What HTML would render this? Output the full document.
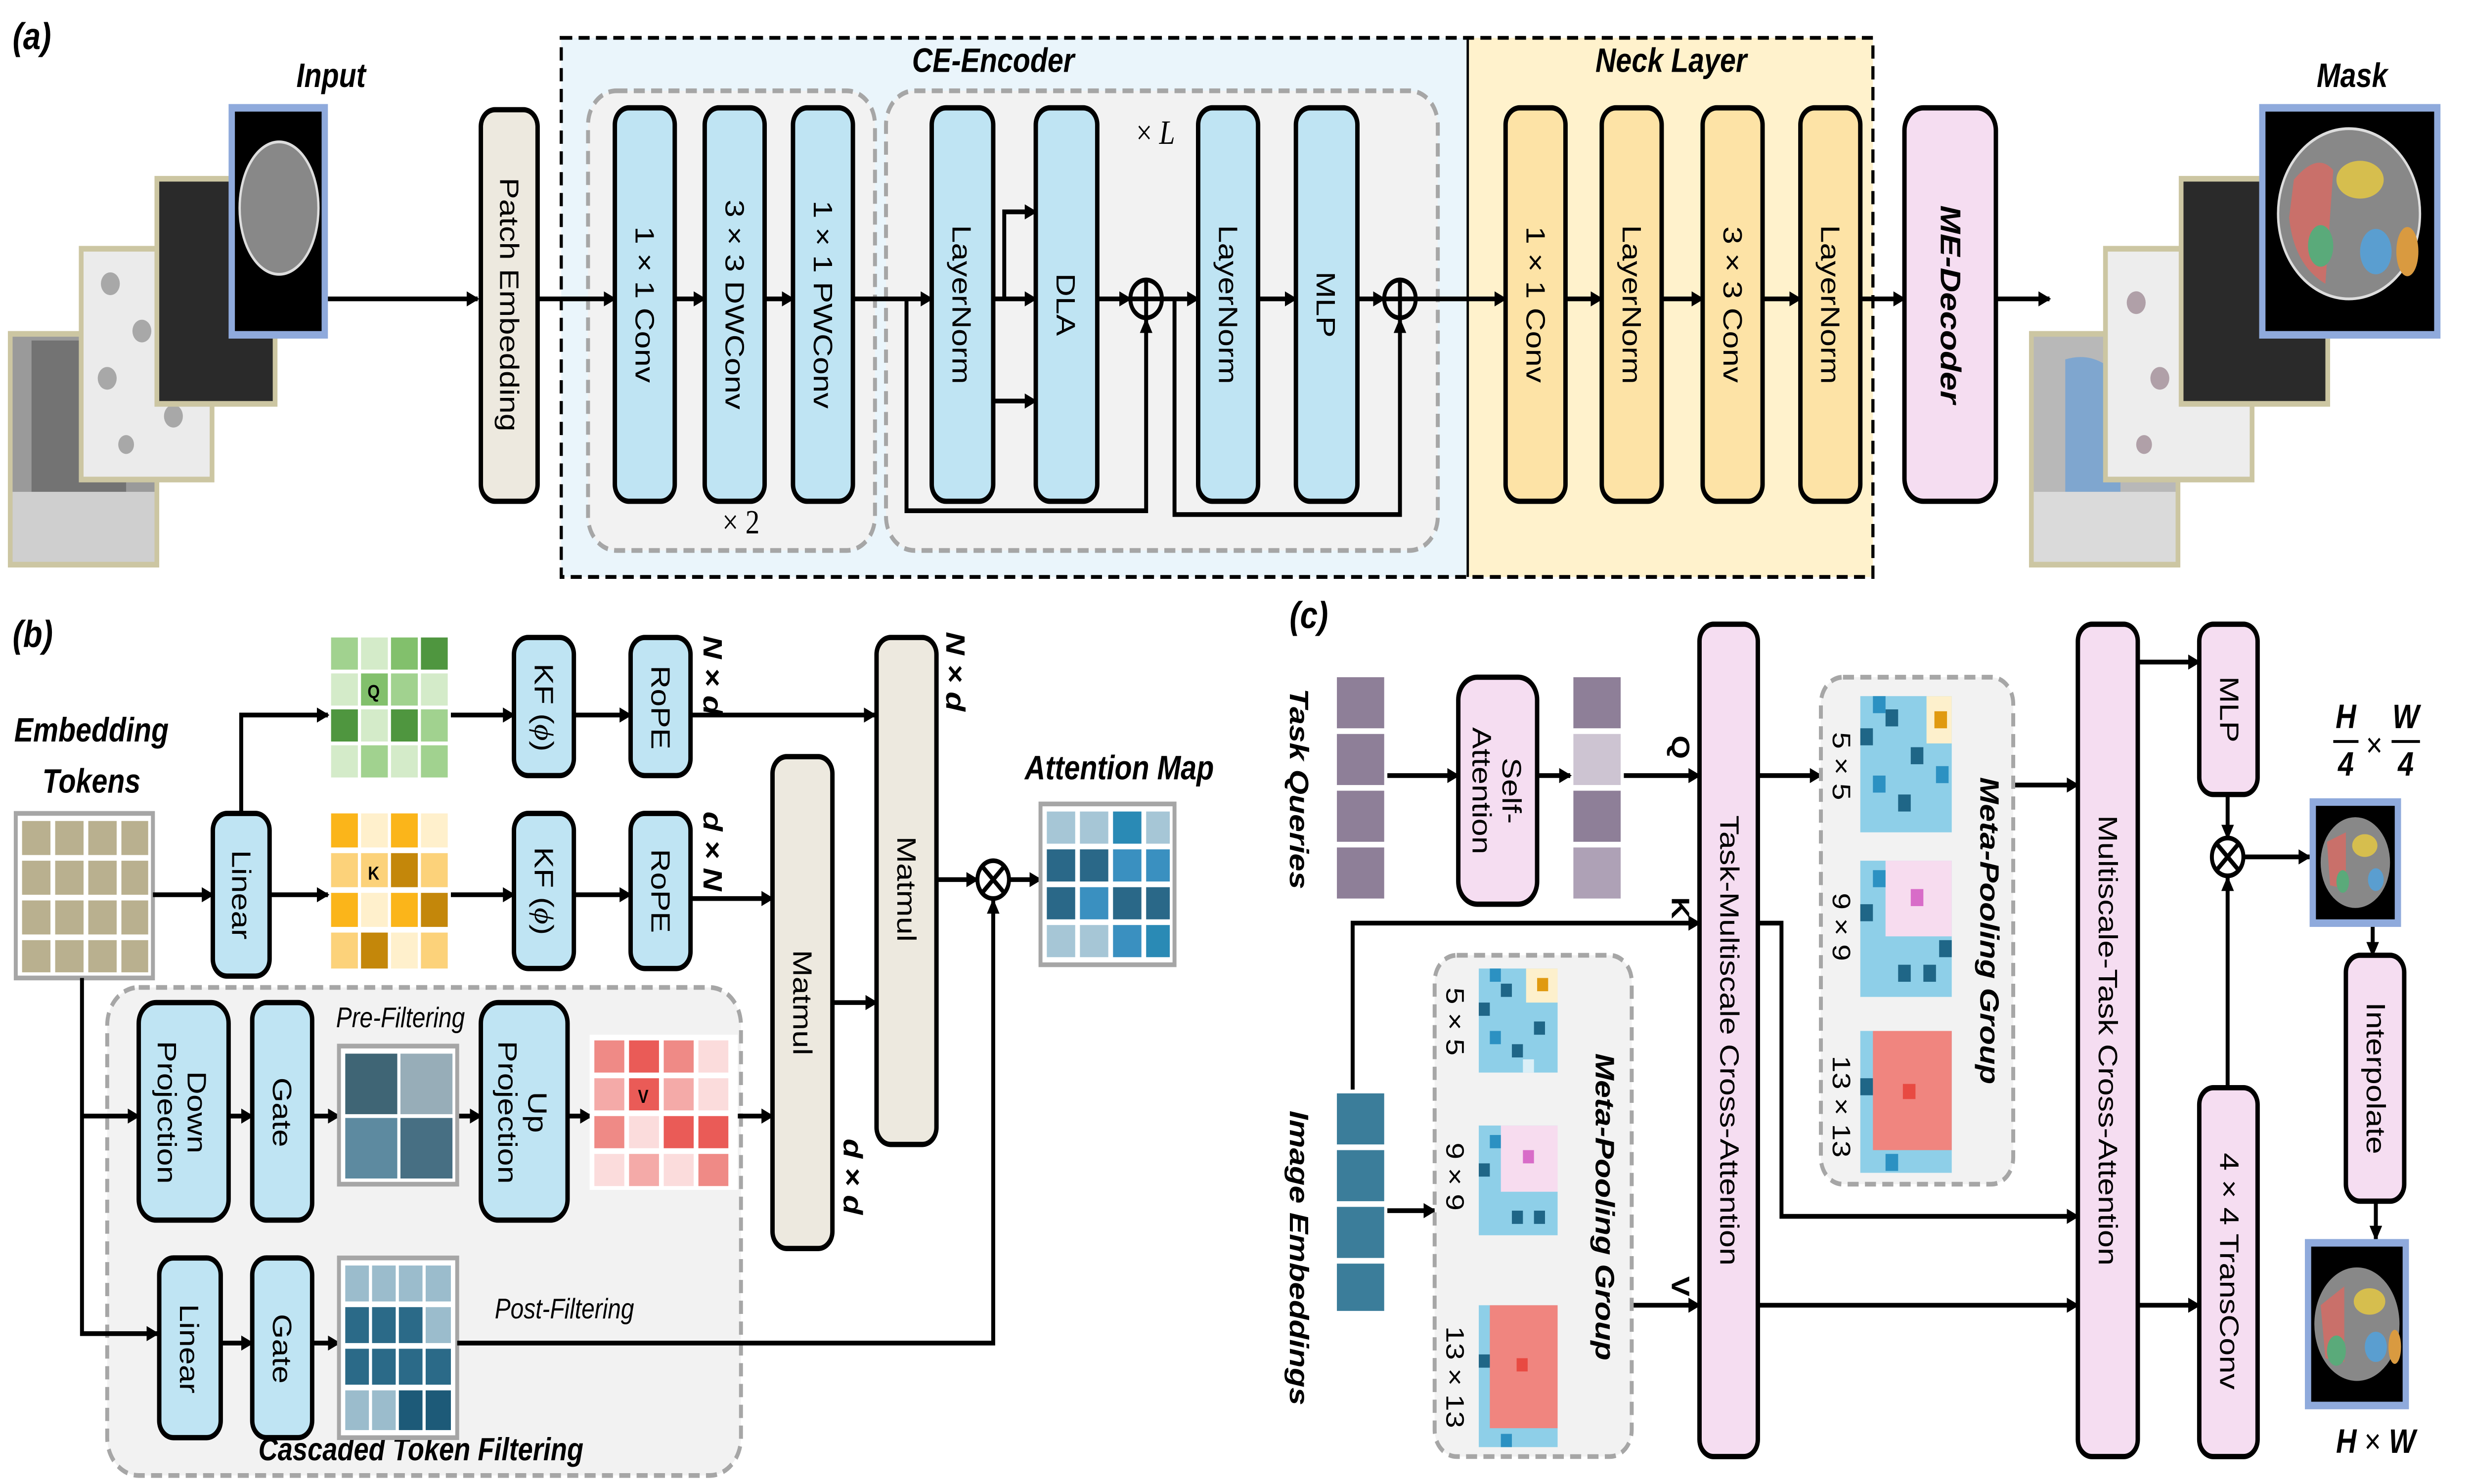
<!DOCTYPE html>
<html><head><meta charset="utf-8"><style>
html,body{margin:0;padding:0;background:#fff;overflow:hidden;width:100%;height:100%}
svg{display:block;width:100vw;height:100vh}
text{font-family:"Liberation Sans",sans-serif}
.lb{font-size:17px;text-anchor:middle;dominant-baseline:central}
.it{font-family:"Liberation Sans",sans-serif;font-style:italic;font-weight:bold;font-size:18px;text-anchor:middle}
.ln{stroke:#000;stroke-width:2.5;fill:none}
.bx{stroke:#000;stroke-width:2.8}
</style></head><body>
<svg viewBox="0 0 1568 784.5" preserveAspectRatio="none" xmlns="http://www.w3.org/2000/svg">
<defs>
<marker id="a" markerWidth="8" markerHeight="8" refX="7" refY="4" orient="auto" markerUnits="userSpaceOnUse"><path d="M0,0 L8,4 L0,8 z" fill="#000"/></marker>
</defs>

<!-- ===== (a) ===== -->
<text x="8" y="26" class="it" style="text-anchor:start;font-size:20px">(a)</text>
<text x="210" y="46" class="it">Input</text>
<rect x="5" y="175" width="96" height="125" fill="#ccc6a2"/><rect x="8" y="178" width="90" height="119" fill="#9a9a9a"/><rect x="20" y="180" width="60" height="80" fill="#5a5a5a" opacity=".6"/><rect x="8" y="260" width="90" height="37" fill="#cfcfcf"/>
<rect x="50" y="130" width="86" height="125" fill="#ccc6a2"/><rect x="53" y="133" width="80" height="119" fill="#ebebeb"/>
<circle cx="70" cy="150" r="6" fill="#a8a8a8"/><circle cx="90" cy="175" r="6" fill="#a8a8a8"/><circle cx="68" cy="200" r="6" fill="#a8a8a8"/><circle cx="110" cy="220" r="6" fill="#a8a8a8"/><circle cx="80" cy="235" r="5" fill="#a8a8a8"/>
<rect x="98" y="93" width="78" height="122" fill="#ccc6a2"/><rect x="101" y="96" width="72" height="116" fill="#2a2a2a"/>
<rect x="145" y="55" width="63" height="124" fill="#8faadc"/><rect x="149" y="59" width="55" height="116" fill="#000"/>
<ellipse cx="177" cy="110" rx="25" ry="35" fill="#888" stroke="#ddd" stroke-width="1.5"/>
<line class="ln" x1="208" y1="158" x2="303" y2="158" marker-end="url(#a)"/>
<rect x="305" y="58" width="36" height="207" rx="9" fill="#ede9df" class="bx"/>
<text class="lb" transform="translate(323,161) rotate(90)">Patch Embedding</text>

<rect x="356" y="20" width="575" height="285" fill="#eaf5fb"/>
<rect x="931" y="20" width="257" height="285" fill="#fff2cc"/>
<rect x="356" y="20" width="832" height="285" fill="none" stroke="#000" stroke-width="2" stroke-dasharray="7,4"/>
<line x1="931" y1="20" x2="931" y2="305" stroke="#000" stroke-width="1.5"/>
<text x="630" y="38" class="it">CE-Encoder</text>
<text x="1060" y="38" class="it">Neck Layer</text>
<rect x="373" y="48" width="182" height="243" rx="18" fill="#f2f2f2" stroke="#a6a6a6" stroke-width="2.5" stroke-dasharray="7,4"/>
<rect x="562" y="48" width="350" height="243" rx="18" fill="#f2f2f2" stroke="#a6a6a6" stroke-width="2.5" stroke-dasharray="7,4"/>
<text x="470" y="282" style="font-size:18px;text-anchor:middle;font-family:'Liberation Serif',serif">× 2</text>
<text x="733" y="76" style="font-size:18px;text-anchor:middle;font-family:'Liberation Serif',serif">× <tspan font-style="italic">L</tspan></text>
<line class="ln" x1="341" y1="158" x2="390" y2="158" marker-end="url(#a)"/>
<g fill="#bfe4f3">
<rect x="390" y="57" width="38" height="208" rx="9" class="bx"/>
<rect x="447" y="57" width="38" height="208" rx="9" class="bx"/>
<rect x="503" y="57" width="38" height="208" rx="9" class="bx"/>
<rect x="591" y="57" width="39" height="208" rx="9" class="bx"/>
<rect x="657" y="57" width="39" height="208" rx="9" class="bx"/>
<rect x="760" y="57" width="38" height="208" rx="9" class="bx"/>
<rect x="822" y="57" width="39" height="208" rx="9" class="bx"/>
</g>
<text class="lb" transform="translate(409,161) rotate(90)">1 × 1 Conv</text>
<text class="lb" transform="translate(466,161) rotate(90)">3 × 3 DWConv</text>
<text class="lb" transform="translate(522,161) rotate(90)">1 × 1 PWConv</text>
<text class="lb" transform="translate(610,161) rotate(90)">LayerNorm</text>
<text class="lb" transform="translate(676,161) rotate(90)">DLA</text>
<text class="lb" transform="translate(779,161) rotate(90)">LayerNorm</text>
<text class="lb" transform="translate(841,161) rotate(90)">MLP</text>
<line class="ln" x1="428" y1="158" x2="447" y2="158" marker-end="url(#a)"/>
<line class="ln" x1="485" y1="158" x2="503" y2="158" marker-end="url(#a)"/>
<line class="ln" x1="541" y1="158" x2="591" y2="158" marker-end="url(#a)"/>
<line class="ln" x1="630" y1="158" x2="657" y2="158" marker-end="url(#a)"/>
<polyline class="ln" points="637,158 637,112 657,112" marker-end="url(#a)"/>
<line class="ln" x1="630" y1="212" x2="657" y2="212" marker-end="url(#a)"/>
<line class="ln" x1="696" y1="158" x2="717" y2="158" marker-end="url(#a)"/>
<circle cx="727" cy="158" r="10" fill="none" stroke="#000" stroke-width="2.5"/><line class="ln" x1="717" y1="158" x2="737" y2="158"/><line class="ln" x1="727" y1="148" x2="727" y2="168"/>
<polyline class="ln" points="575,158 575,270 727,270 727,169" marker-end="url(#a)"/>
<line class="ln" x1="737" y1="158" x2="760" y2="158" marker-end="url(#a)"/>
<line class="ln" x1="798" y1="158" x2="822" y2="158" marker-end="url(#a)"/>
<line class="ln" x1="861" y1="158" x2="878" y2="158" marker-end="url(#a)"/>
<circle cx="888" cy="158" r="10" fill="none" stroke="#000" stroke-width="2.5"/><line class="ln" x1="878" y1="158" x2="898" y2="158"/><line class="ln" x1="888" y1="148" x2="888" y2="168"/>
<polyline class="ln" points="745,158 745,272 888,272 888,169" marker-end="url(#a)"/>
<line class="ln" x1="898" y1="158" x2="955" y2="158" marker-end="url(#a)"/>
<g fill="#fde3a6">
<rect x="955" y="57" width="38" height="208" rx="9" class="bx"/>
<rect x="1016" y="57" width="38" height="208" rx="9" class="bx"/>
<rect x="1080" y="57" width="38" height="208" rx="9" class="bx"/>
<rect x="1142" y="57" width="38" height="208" rx="9" class="bx"/>
</g>
<text class="lb" transform="translate(974,161) rotate(90)">1 × 1 Conv</text>
<text class="lb" transform="translate(1035,161) rotate(90)">LayerNorm</text>
<text class="lb" transform="translate(1099,161) rotate(90)">3 × 3 Conv</text>
<text class="lb" transform="translate(1161,161) rotate(90)">LayerNorm</text>
<line class="ln" x1="993" y1="158" x2="1016" y2="158" marker-end="url(#a)"/>
<line class="ln" x1="1054" y1="158" x2="1080" y2="158" marker-end="url(#a)"/>
<line class="ln" x1="1118" y1="158" x2="1142" y2="158" marker-end="url(#a)"/>
<line class="ln" x1="1180" y1="158" x2="1208" y2="158" marker-end="url(#a)"/>
<rect x="1208" y="57" width="58" height="208" rx="12" fill="#f5ddf1" class="bx"/>
<text class="lb" transform="translate(1237,161) rotate(90)" style="font-weight:bold;font-style:italic;font-size:18px">ME-Decoder</text>
<line class="ln" x1="1266" y1="158" x2="1300" y2="158" marker-end="url(#a)"/>
<text x="1492" y="46" class="it">Mask</text>
<rect x="1287" y="175" width="96" height="125" fill="#ccc6a2"/><rect x="1290" y="178" width="90" height="119" fill="#b8b8b8"/><path d="M1310,190 Q1330,185 1345,200 L1345,260 L1310,260 z" fill="#7fa6cf"/><rect x="1290" y="260" width="90" height="37" fill="#dadada"/>
<rect x="1334" y="130" width="96" height="125" fill="#ccc6a2"/><rect x="1337" y="133" width="90" height="119" fill="#ededed"/>
<circle cx="1355" cy="160" r="6" fill="#b0a0a8"/><circle cx="1370" cy="200" r="6" fill="#b0a0a8"/><circle cx="1360" cy="235" r="5" fill="#b0a0a8"/>
<rect x="1382" y="93" width="96" height="122" fill="#ccc6a2"/><rect x="1385" y="96" width="90" height="116" fill="#2a2a2a"/>
<rect x="1433" y="55" width="115" height="124" fill="#8faadc"/><rect x="1437" y="59" width="107" height="116" fill="#000"/>
<ellipse cx="1490" cy="113" rx="45" ry="45" fill="#888" stroke="#ddd" stroke-width="1.5"/>
<path d="M1455,95 Q1470,80 1480,90 L1475,150 Q1455,140 1452,115z" fill="#c9706a"/>
<ellipse cx="1497" cy="95" rx="15" ry="10" fill="#d6be4e"/><ellipse cx="1472" cy="130" rx="8" ry="11" fill="#5aaa7a"/><ellipse cx="1507" cy="133" rx="10" ry="12" fill="#5a9ed0"/><ellipse cx="1527" cy="133" rx="7" ry="13" fill="#d99a40"/>

<!-- ===== (b) ===== -->
<text x="8" y="342" class="it" style="text-anchor:start;font-size:20px">(b)</text>
<text x="58" y="392" class="it">Embedding</text>
<text x="58" y="419" class="it">Tokens</text>
<rect x="10" y="430" width="87" height="87" fill="#fff" stroke="#a6a6a6" stroke-width="2.5"/>
<g fill="#b9b08f">
<rect x="14" y="434" width="18" height="18"/><rect x="35" y="434" width="18" height="18"/><rect x="56" y="434" width="18" height="18"/><rect x="77" y="434" width="17" height="18"/>
<rect x="14" y="455" width="18" height="18"/><rect x="35" y="455" width="18" height="18"/><rect x="56" y="455" width="18" height="18"/><rect x="77" y="455" width="17" height="18"/>
<rect x="14" y="476" width="18" height="18"/><rect x="35" y="476" width="18" height="18"/><rect x="56" y="476" width="18" height="18"/><rect x="77" y="476" width="17" height="18"/>
<rect x="14" y="497" width="18" height="17"/><rect x="35" y="497" width="18" height="17"/><rect x="56" y="497" width="18" height="17"/><rect x="77" y="497" width="17" height="17"/>
</g>
<rect x="68" y="522" width="402" height="258" rx="20" fill="#f2f2f2" stroke="#a6a6a6" stroke-width="2.5" stroke-dasharray="7,4"/>
<line class="ln" x1="97" y1="473" x2="135" y2="473" marker-end="url(#a)"/>
<polyline class="ln" points="52,517 52,705 100,705" marker-end="url(#a)"/>
<line class="ln" x1="52" y1="590" x2="88" y2="590" marker-end="url(#a)"/>
<rect x="135" y="430" width="36" height="86" rx="9" fill="#bfe4f3" class="bx"/>
<text class="lb" transform="translate(153,473) rotate(90)">Linear</text>
<polyline class="ln" points="153,430 153,378 208,378" marker-end="url(#a)"/>
<line class="ln" x1="171" y1="473" x2="208" y2="473" marker-end="url(#a)"/>
<g>
<rect x="210" y="337" width="17" height="17" fill="#a1d28f"/><rect x="229" y="337" width="17" height="17" fill="#d4ebc9"/><rect x="248" y="337" width="17" height="17" fill="#82c06c"/><rect x="267" y="337" width="17" height="17" fill="#4f963f"/>
<rect x="210" y="356" width="17" height="17" fill="#d4ebc9"/><rect x="229" y="356" width="17" height="17" fill="#82c06c"/><rect x="248" y="356" width="17" height="17" fill="#a1d28f"/><rect x="267" y="356" width="17" height="17" fill="#d4ebc9"/>
<rect x="210" y="375" width="17" height="17" fill="#4f963f"/><rect x="229" y="375" width="17" height="17" fill="#d4ebc9"/><rect x="248" y="375" width="17" height="17" fill="#4f963f"/><rect x="267" y="375" width="17" height="17" fill="#a1d28f"/>
<rect x="210" y="394" width="17" height="17" fill="#d4ebc9"/><rect x="229" y="394" width="17" height="17" fill="#a1d28f"/><rect x="248" y="394" width="17" height="17" fill="#d4ebc9"/><rect x="267" y="394" width="17" height="17" fill="#a1d28f"/>
<text x="237" y="369" style="font-size:10px;font-weight:bold;text-anchor:middle">Q</text>
</g>
<g>
<rect x="210" y="430" width="17" height="18" fill="#fbb51a"/><rect x="229" y="430" width="17" height="18" fill="#fff0cc"/><rect x="248" y="430" width="17" height="18" fill="#fbb51a"/><rect x="267" y="430" width="17" height="18" fill="#fff0cc"/>
<rect x="210" y="451" width="17" height="18" fill="#fcd27a"/><rect x="229" y="451" width="17" height="18" fill="#fcd27a"/><rect x="248" y="451" width="17" height="18" fill="#c4870a"/><rect x="267" y="451" width="17" height="18" fill="#fcd27a"/>
<rect x="210" y="472" width="17" height="18" fill="#fbb51a"/><rect x="229" y="472" width="17" height="18" fill="#fff0cc"/><rect x="248" y="472" width="17" height="18" fill="#fbb51a"/><rect x="267" y="472" width="17" height="18" fill="#c4870a"/>
<rect x="210" y="493" width="17" height="19" fill="#fcd27a"/><rect x="229" y="493" width="17" height="19" fill="#c4870a"/><rect x="248" y="493" width="17" height="19" fill="#fff0cc"/><rect x="267" y="493" width="17" height="19" fill="#fcd27a"/>
<text x="237" y="465" style="font-size:10px;font-weight:bold;text-anchor:middle">K</text>
</g>
<line class="ln" x1="286" y1="378" x2="326" y2="378" marker-end="url(#a)"/>
<line class="ln" x1="286" y1="473" x2="326" y2="473" marker-end="url(#a)"/>
<g fill="#bfe4f3">
<rect x="326" y="337" width="38" height="73" rx="9" class="bx"/>
<rect x="326" y="430" width="38" height="82" rx="9" class="bx"/>
<rect x="400" y="337" width="38" height="73" rx="9" class="bx"/>
<rect x="400" y="430" width="38" height="82" rx="9" class="bx"/>
</g>
<text class="lb" transform="translate(345,374) rotate(90)">KF (<tspan font-style="italic" font-family="Liberation Serif">ϕ</tspan>)</text>
<text class="lb" transform="translate(345,471) rotate(90)">KF (<tspan font-style="italic" font-family="Liberation Serif">ϕ</tspan>)</text>
<text class="lb" transform="translate(419,374) rotate(90)">RoPE</text>
<text class="lb" transform="translate(419,471) rotate(90)">RoPE</text>
<line class="ln" x1="364" y1="378" x2="400" y2="378" marker-end="url(#a)"/>
<line class="ln" x1="364" y1="473" x2="400" y2="473" marker-end="url(#a)"/>
<line class="ln" x1="438" y1="378" x2="555" y2="378" marker-end="url(#a)"/>
<line class="ln" x1="438" y1="475" x2="490" y2="475" marker-end="url(#a)"/>
<g style="font-family:'Liberation Serif',serif;font-style:italic;font-weight:bold;font-size:17px" text-anchor="middle">
<text transform="translate(452,357) rotate(90)" dominant-baseline="central">N × d</text>
<text transform="translate(452,450) rotate(90)" dominant-baseline="central">d × N</text>
<text transform="translate(606,355) rotate(90)" dominant-baseline="central">N × d</text>
<text transform="translate(541,622) rotate(90)" dominant-baseline="central">d × d</text>
</g>
<g fill="#ede9df">
<rect x="490" y="400" width="38" height="260" rx="9" class="bx"/>
<rect x="556" y="337" width="38" height="268" rx="9" class="bx"/>
</g>
<text class="lb" transform="translate(509,530) rotate(90)">Matmul</text>
<text class="lb" transform="translate(575,470) rotate(90)">Matmul</text>
<line class="ln" x1="528" y1="530" x2="556" y2="530" marker-end="url(#a)"/>
<line class="ln" x1="594" y1="465" x2="620" y2="465" marker-end="url(#a)"/>
<circle cx="630" cy="465" r="10" fill="#fff" stroke="#000" stroke-width="2.5"/><path class="ln" d="M623,458 L637,472 M637,458 L623,472"/>
<line class="ln" x1="640" y1="465" x2="660" y2="465" marker-end="url(#a)"/>
<text x="710" y="412" class="it">Attention Map</text>
<rect x="660" y="425" width="85" height="85" fill="#fff" stroke="#a6a6a6" stroke-width="2.5"/>
<g>
<rect x="664" y="429" width="18" height="17" fill="#a6c6d6"/><rect x="685" y="429" width="18" height="17" fill="#a6c6d6"/><rect x="706" y="429" width="18" height="17" fill="#2a8ab5"/><rect x="727" y="429" width="15" height="17" fill="#a6c6d6"/>
<rect x="664" y="449" width="18" height="17" fill="#2a6888"/><rect x="685" y="449" width="18" height="17" fill="#2a6888"/><rect x="706" y="449" width="18" height="17" fill="#3a90c0"/><rect x="727" y="449" width="15" height="17" fill="#3a90c0"/>
<rect x="664" y="469" width="18" height="17" fill="#2a6888"/><rect x="685" y="469" width="18" height="17" fill="#3a90c0"/><rect x="706" y="469" width="18" height="17" fill="#2a6888"/><rect x="727" y="469" width="15" height="17" fill="#2a6888"/>
<rect x="664" y="489" width="18" height="17" fill="#a6c6d6"/><rect x="685" y="489" width="18" height="17" fill="#a6c6d6"/><rect x="706" y="489" width="18" height="17" fill="#3a90c0"/><rect x="727" y="489" width="15" height="17" fill="#2a8ab5"/>
</g>
<g fill="#bfe4f3">
<rect x="88" y="530" width="57" height="115" rx="11" class="bx"/>
<rect x="160" y="530" width="38" height="115" rx="9" class="bx"/>
<rect x="305" y="530" width="55" height="115" rx="11" class="bx"/>
<rect x="101" y="665" width="39" height="95" rx="9" class="bx"/>
<rect x="160" y="665" width="38" height="95" rx="9" class="bx"/>
</g>
<text class="lb" transform="translate(116,588) rotate(90)"><tspan x="0" dy="-9">Down</tspan><tspan x="0" dy="19">Projection</tspan></text>
<text class="lb" transform="translate(179,588) rotate(90)">Gate</text>
<text class="lb" transform="translate(332,588) rotate(90)"><tspan x="0" dy="-9">Up</tspan><tspan x="0" dy="19">Projection</tspan></text>
<text class="lb" transform="translate(120,713) rotate(90)">Linear</text>
<text class="lb" transform="translate(179,713) rotate(90)">Gate</text>
<text x="254" y="543" style="font-style:italic;font-size:15px;text-anchor:middle">Pre-Filtering</text>
<text x="358" y="697" style="font-style:italic;font-size:15px;text-anchor:middle">Post-Filtering</text>
<text x="267" y="772" class="it" style="font-size:17px">Cascaded Token Filtering</text>
<line class="ln" x1="145" y1="590" x2="160" y2="590" marker-end="url(#a)"/>
<line class="ln" x1="198" y1="590" x2="215" y2="590" marker-end="url(#a)"/>
<line class="ln" x1="290" y1="590" x2="305" y2="590" marker-end="url(#a)"/>
<line class="ln" x1="360" y1="590" x2="375" y2="590" marker-end="url(#a)"/>
<line class="ln" x1="140" y1="710" x2="160" y2="710" marker-end="url(#a)"/>
<line class="ln" x1="198" y1="710" x2="215" y2="710" marker-end="url(#a)"/>
<rect x="215" y="553" width="75" height="73" fill="#fff" stroke="#a6a6a6" stroke-width="2.5"/>
<rect x="219" y="557" width="33" height="32" fill="#3f6575"/><rect x="254" y="557" width="33" height="32" fill="#97adb8"/><rect x="219" y="591" width="33" height="32" fill="#5d8aa0"/><rect x="254" y="591" width="33" height="32" fill="#476f83"/>
<rect x="374" y="547" width="94" height="82" fill="#fff"/>
<g>
<rect x="377" y="550" width="19" height="17" fill="#ef8a86"/><rect x="399" y="550" width="19" height="17" fill="#ea5b57"/><rect x="421" y="550" width="19" height="17" fill="#ef8a86"/><rect x="443" y="550" width="19" height="17" fill="#fbdcdc"/>
<rect x="377" y="570" width="19" height="17" fill="#f4aaa8"/><rect x="399" y="570" width="19" height="17" fill="#ea5b57"/><rect x="421" y="570" width="19" height="17" fill="#f4aaa8"/><rect x="443" y="570" width="19" height="17" fill="#fbdcdc"/>
<rect x="377" y="590" width="19" height="17" fill="#ef8a86"/><rect x="399" y="590" width="19" height="17" fill="#fbdcdc"/><rect x="421" y="590" width="19" height="17" fill="#ea5b57"/><rect x="443" y="590" width="19" height="17" fill="#ea5b57"/>
<rect x="377" y="610" width="19" height="17" fill="#fbdcdc"/><rect x="399" y="610" width="19" height="17" fill="#f4aaa8"/><rect x="421" y="610" width="19" height="17" fill="#fbdcdc"/><rect x="443" y="610" width="19" height="17" fill="#ef8a86"/>
<text x="408" y="583" style="font-size:10px;font-weight:bold;text-anchor:middle">V</text>
</g>
<line class="ln" x1="468" y1="590" x2="490" y2="590" marker-end="url(#a)"/>
<rect x="215" y="665" width="75" height="95" fill="#fff" stroke="#a6a6a6" stroke-width="2.5"/>
<g>
<rect x="219" y="669" width="15" height="19" fill="#9bbccc"/><rect x="236" y="669" width="15" height="19" fill="#9bbccc"/><rect x="253" y="669" width="15" height="19" fill="#9bbccc"/><rect x="270" y="669" width="16" height="19" fill="#9bbccc"/>
<rect x="219" y="691" width="15" height="19" fill="#2b6a88"/><rect x="236" y="691" width="15" height="19" fill="#2b6a88"/><rect x="253" y="691" width="15" height="19" fill="#2b6a88"/><rect x="270" y="691" width="16" height="19" fill="#9bbccc"/>
<rect x="219" y="713" width="15" height="19" fill="#2b6a88"/><rect x="236" y="713" width="15" height="19" fill="#2b6a88"/><rect x="253" y="713" width="15" height="19" fill="#2b6a88"/><rect x="270" y="713" width="16" height="19" fill="#2b6a88"/>
<rect x="219" y="735" width="15" height="21" fill="#9bbccc"/><rect x="236" y="735" width="15" height="21" fill="#9bbccc"/><rect x="253" y="735" width="15" height="21" fill="#1d5a78"/><rect x="270" y="735" width="16" height="21" fill="#1d5a78"/>
</g>
<polyline class="ln" points="290,710 630,710 630,476" marker-end="url(#a)"/>

<!-- ===== (c) ===== -->
<text x="818" y="332" class="it" style="text-anchor:start;font-size:20px">(c)</text>
<text class="it" transform="translate(824,417) rotate(90)" dominant-baseline="central" style="font-size:17px">Task Queries</text>
<text class="it" transform="translate(824,665) rotate(90)" dominant-baseline="central" style="font-size:17px">Image Embeddings</text>
<g fill="#8e7f98">
<rect x="848" y="358" width="30" height="27"/><rect x="848" y="388" width="30" height="27"/><rect x="848" y="418" width="30" height="27"/><rect x="848" y="448" width="30" height="27"/>
</g>
<rect x="998" y="358" width="30" height="27" fill="#8e7f98"/><rect x="998" y="388" width="30" height="27" fill="#cdc4d2"/><rect x="998" y="418" width="30" height="27" fill="#8e7f98"/><rect x="998" y="448" width="30" height="27" fill="#aea1b6"/>
<g fill="#3b7d9a">
<rect x="848" y="578" width="30" height="27"/><rect x="848" y="608" width="30" height="27"/><rect x="848" y="638" width="30" height="27"/><rect x="848" y="668" width="30" height="25"/>
</g>
<line class="ln" x1="880" y1="410" x2="925" y2="410" marker-end="url(#a)"/>
<rect x="925" y="358" width="50" height="120" rx="12" fill="#f5ddf1" class="bx"/>
<text class="lb" transform="translate(950,418) rotate(90)"><tspan x="0" dy="-9">Self-</tspan><tspan x="0" dy="19">Attention</tspan></text>
<line class="ln" x1="975" y1="410" x2="996" y2="410" marker-end="url(#a)"/>
<line class="ln" x1="1030" y1="410" x2="1078" y2="410" marker-end="url(#a)"/>
<g style="font-weight:bold;font-size:16px" text-anchor="middle">
<text transform="translate(1066,395) rotate(90)" dominant-baseline="central">Q</text>
<text transform="translate(1066,480) rotate(90)" dominant-baseline="central">K</text>
<text transform="translate(1066,680) rotate(90)" dominant-baseline="central">V</text>
</g>
<polyline class="ln" points="858,576 858,488 1078,488" marker-end="url(#a)"/>
<line class="ln" x1="880" y1="640" x2="910" y2="640" marker-end="url(#a)"/>
<line class="ln" x1="1035" y1="690" x2="1078" y2="690" marker-end="url(#a)"/>
<g fill="#f5ddf1">
<rect x="1078" y="330" width="37" height="440" rx="9" class="bx"/>
<rect x="1318" y="330" width="38" height="440" rx="9" class="bx"/>
<rect x="1395" y="330" width="37" height="90" rx="9" class="bx"/>
<rect x="1395" y="575" width="37" height="195" rx="9" class="bx"/>
<rect x="1488" y="505" width="37" height="130" rx="9" class="bx"/>
</g>
<text class="lb" transform="translate(1097,550) rotate(90)">Task-Multiscale Cross-Attention</text>
<text class="lb" transform="translate(1337,550) rotate(90)">Multiscale-Task Cross-Attention</text>
<text class="lb" transform="translate(1414,375) rotate(90)">MLP</text>
<text class="lb" transform="translate(1414,672) rotate(90)">4 × 4 TransConv</text>
<text class="lb" transform="translate(1507,570) rotate(90)">Interpolate</text>
<line class="ln" x1="1115" y1="410" x2="1155" y2="410" marker-end="url(#a)"/>
<polyline class="ln" points="1115,488 1130,488 1130,643 1318,643" marker-end="url(#a)"/>
<line class="ln" x1="1115" y1="690" x2="1318" y2="690" marker-end="url(#a)"/>
<line class="ln" x1="1277" y1="415" x2="1318" y2="415" marker-end="url(#a)"/>
<line class="ln" x1="1356" y1="350" x2="1395" y2="350" marker-end="url(#a)"/>
<line class="ln" x1="1356" y1="690" x2="1395" y2="690" marker-end="url(#a)"/>
<line class="ln" x1="1413" y1="420" x2="1413" y2="443" marker-end="url(#a)"/>
<line class="ln" x1="1413" y1="575" x2="1413" y2="464" marker-end="url(#a)"/>
<circle cx="1413" cy="453" r="10" fill="#fff" stroke="#000" stroke-width="2.5"/><path class="ln" d="M1406,446 L1420,460 M1420,446 L1406,460"/>
<line class="ln" x1="1423" y1="453" x2="1465" y2="453" marker-end="url(#a)"/>
<g style="font-family:'Liberation Serif',serif;font-style:italic;font-weight:bold;font-size:18px" text-anchor="middle">
<text x="1488" y="385">H</text><text x="1488" y="410">4</text><line x1="1480" y1="392" x2="1496" y2="392" stroke="#000" stroke-width="1.5"/>
<text x="1506" y="400" style="font-style:normal;font-weight:normal">×</text>
<text x="1526" y="385">W</text><text x="1526" y="410">4</text><line x1="1517" y1="392" x2="1535" y2="392" stroke="#000" stroke-width="1.5"/>
<text x="1507" y="768">H <tspan font-style="normal" font-weight="normal">×</tspan> W</text>
</g>
<rect x="1465" y="422" width="58" height="68" fill="#8faadc"/><rect x="1469" y="426" width="50" height="60" fill="#000"/>
<ellipse cx="1494" cy="456" rx="22" ry="24" fill="#888"/><path d="M1476,445 L1488,440 L1488,470 L1478,468z" fill="#c9706a"/><ellipse cx="1500" cy="447" rx="8" ry="6" fill="#d6be4e"/><ellipse cx="1507" cy="465" rx="5" ry="6" fill="#5a9ed0"/><ellipse cx="1486" cy="466" rx="4" ry="6" fill="#5aaa7a"/>
<line class="ln" x1="1505" y1="490" x2="1505" y2="505" marker-end="url(#a)"/>
<line class="ln" x1="1507" y1="635" x2="1507" y2="655" marker-end="url(#a)"/>
<rect x="1462" y="655" width="66" height="90" fill="#8faadc"/><rect x="1466" y="659" width="58" height="82" fill="#000"/>
<ellipse cx="1495" cy="700" rx="27" ry="30" fill="#888"/><path d="M1472,690 L1487,680 L1487,720 L1475,718z" fill="#c9706a"/><ellipse cx="1503" cy="688" rx="10" ry="7" fill="#d6be4e"/><ellipse cx="1507" cy="712" rx="7" ry="8" fill="#5a9ed0"/><ellipse cx="1482" cy="714" rx="6" ry="8" fill="#5aaa7a"/><ellipse cx="1519" cy="712" rx="4" ry="9" fill="#d99a40"/>

<rect x="910" y="505" width="125" height="265" rx="14" fill="#f2f2f2" stroke="#a6a6a6" stroke-width="2.5" stroke-dasharray="7,4"/>
<rect x="1155" y="358" width="122" height="268" rx="14" fill="#f2f2f2" stroke="#a6a6a6" stroke-width="2.5" stroke-dasharray="7,4"/>
<g font-size="16" text-anchor="middle">
<text transform="translate(923,540) rotate(90)" dominant-baseline="central">5 × 5</text>
<text transform="translate(923,622) rotate(90)" dominant-baseline="central">9 × 9</text>
<text transform="translate(923,728) rotate(90)" dominant-baseline="central">13 × 13</text>
<text transform="translate(1168,405) rotate(90)" dominant-baseline="central">5 × 5</text>
<text transform="translate(1168,490) rotate(90)" dominant-baseline="central">9 × 9</text>
<text transform="translate(1168,585) rotate(90)" dominant-baseline="central">13 × 13</text>
</g>
<text class="it" transform="translate(1018,638) rotate(90)" dominant-baseline="central" style="font-size:17px">Meta-Pooling Group</text>
<text class="it" transform="translate(1262,492) rotate(90)" dominant-baseline="central" style="font-size:17px">Meta-Pooling Group</text>
<rect x="938" y="512" width="50" height="55" fill="#8ecfe8"/>
<rect x="968" y="512" width="20" height="18" fill="#fdf0cc"/><rect x="975" y="517" width="7" height="7" fill="#e09a10"/>
<rect x="938" y="530" width="7" height="7" fill="#1f6687"/><rect x="952" y="520" width="7" height="7" fill="#1f6687"/><rect x="945" y="545" width="7" height="7" fill="#2c91c2"/><rect x="959" y="552" width="7" height="7" fill="#1f6687"/><rect x="973" y="540" width="7" height="7" fill="#1f6687"/><rect x="945" y="512" width="7" height="7" fill="#2c91c2"/><rect x="966" y="560" width="7" height="7" fill="#dbeff7"/>
<rect x="938" y="595" width="50" height="58" fill="#8ecfe8"/><rect x="952" y="595" width="36" height="35" fill="#f7dcef"/><rect x="966" y="608" width="7" height="7" fill="#d86cc8"/>
<rect x="938" y="615" width="7" height="7" fill="#1f6687"/><rect x="945" y="600" width="7" height="7" fill="#2c91c2"/><rect x="959" y="640" width="7" height="7" fill="#1f6687"/><rect x="973" y="640" width="7" height="7" fill="#1f6687"/>
<rect x="938" y="690" width="50" height="75" fill="#8ecfe8"/><rect x="945" y="690" width="43" height="65" fill="#f0857f"/><rect x="962" y="718" width="7" height="7" fill="#e84a42"/>
<rect x="938" y="716" width="7" height="7" fill="#1f6687"/><rect x="952" y="758" width="7" height="7" fill="#2c91c2"/>
<rect x="1180" y="368" width="58" height="72" fill="#8ecfe8"/>
<rect x="1222" y="368" width="16" height="25" fill="#fdf0cc"/><rect x="1227" y="376" width="8" height="9" fill="#e09a10"/>
<rect x="1180" y="385" width="8" height="9" fill="#1f6687"/><rect x="1196" y="375" width="8" height="9" fill="#1f6687"/><rect x="1212" y="395" width="8" height="9" fill="#1f6687"/><rect x="1188" y="410" width="8" height="9" fill="#2c91c2"/><rect x="1204" y="420" width="8" height="9" fill="#1f6687"/><rect x="1228" y="405" width="8" height="9" fill="#2c91c2"/><rect x="1188" y="368" width="8" height="9" fill="#2c91c2"/>
<rect x="1180" y="455" width="58" height="72" fill="#8ecfe8"/><rect x="1196" y="455" width="42" height="40" fill="#f7dcef"/><rect x="1212" y="470" width="8" height="9" fill="#d86cc8"/>
<rect x="1180" y="478" width="8" height="9" fill="#1f6687"/><rect x="1188" y="460" width="8" height="9" fill="#2c91c2"/><rect x="1204" y="510" width="8" height="9" fill="#1f6687"/><rect x="1220" y="510" width="8" height="9" fill="#1f6687"/><rect x="1230" y="497" width="8" height="9" fill="#1f6687"/>
<rect x="1180" y="545" width="58" height="75" fill="#8ecfe8"/><rect x="1188" y="545" width="50" height="63" fill="#f0857f"/><rect x="1207" y="573" width="8" height="8" fill="#e84a42"/>
<rect x="1180" y="570" width="8" height="9" fill="#1f6687"/><rect x="1196" y="610" width="8" height="9" fill="#2c91c2"/>
</svg>
</body></html>
